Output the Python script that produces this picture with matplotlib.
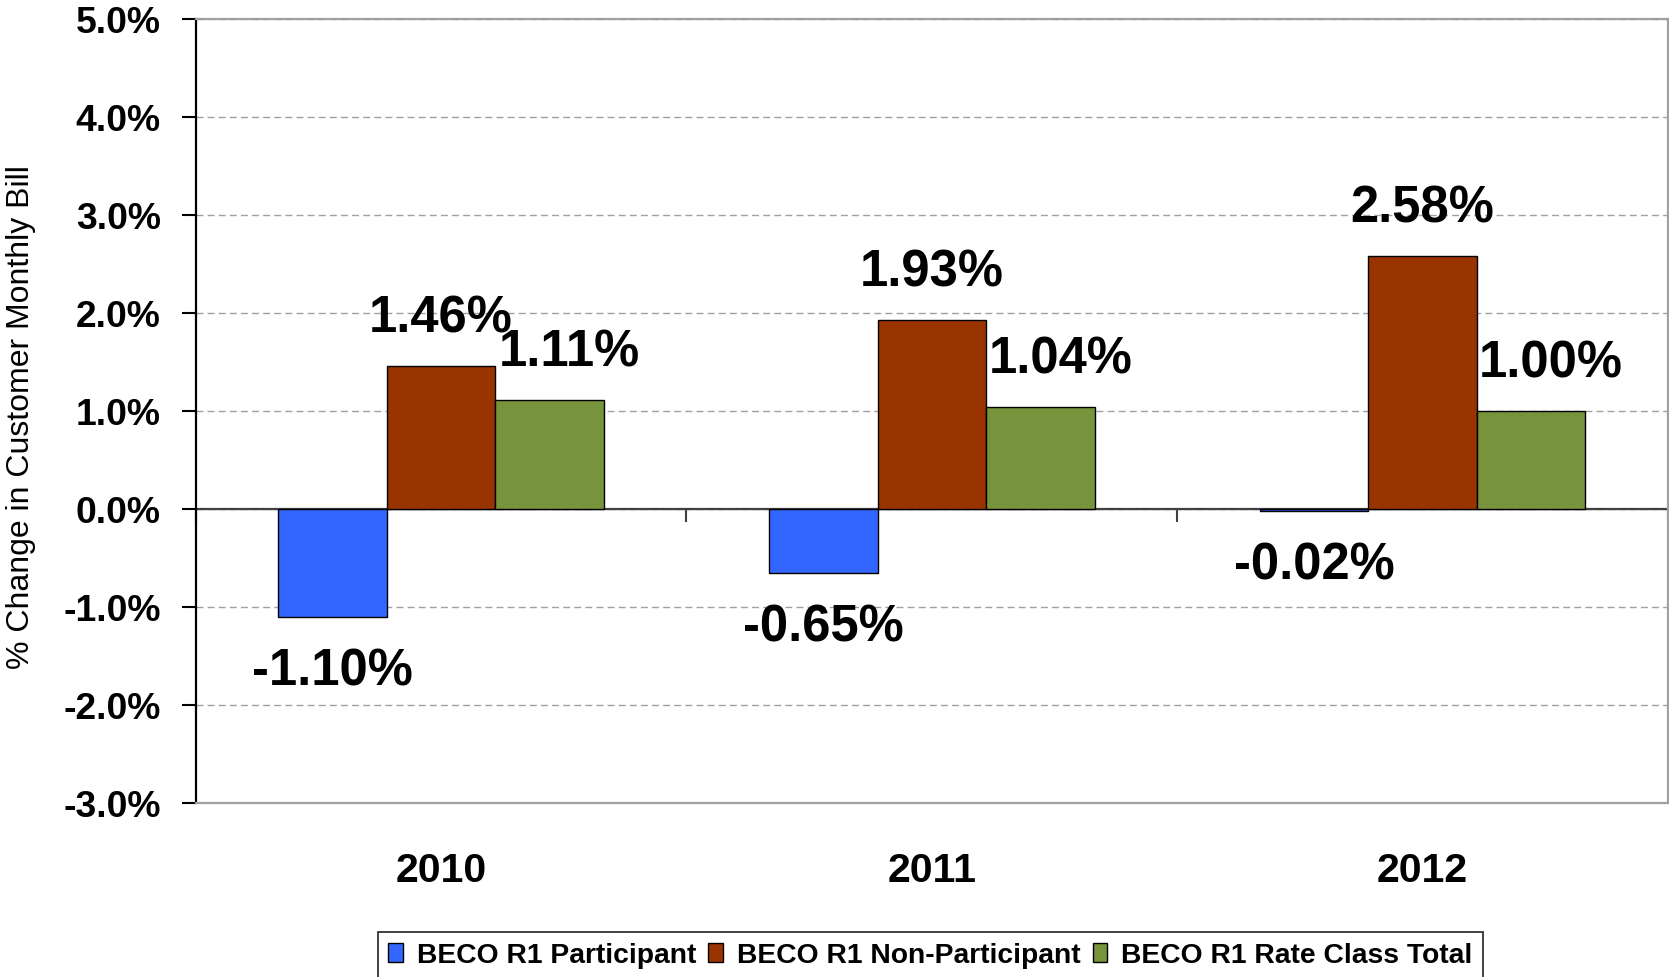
import matplotlib.pyplot as plt
import numpy as np

'''
    data
'''
years = ['2010', '2011', '2012']
participant = [-1.10, -0.65, -0.02]
non_participant = [1.46, 1.93, 2.58]
rate_class_total = [1.11, 1.04, 1.00]
series_names = ['BECO R1 Participant', 'BECO R1 Non-Participant', 'BECO R1 Rate Class Total']
y_ticks = [-3, -2, -1, 0, 1, 2, 3, 4, 5]

colors = ['#3366FF', '#993300', '#77933C']
label_dx = [0, 0, 14.5]   # points, green labels sit a bit to the right

plt.rcParams['font.family'] = ['Liberation Sans', 'DejaVu Sans']

fig = plt.figure(figsize=(16.69, 9.77), dpi=100)
ax = fig.add_axes([0.1172, 0.1778, 0.8822, 0.8025])

x = np.arange(len(years))
w = 0.221
bars = []
for i, vals in enumerate([participant, non_participant, rate_class_total]):
    b = ax.bar(x + (i - 1) * w, vals, w, color=colors[i], edgecolor='black',
               linewidth=1.0, label=series_names[i], zorder=3)
    bars.append(b)
    for xi, v in zip(x + (i - 1) * w, vals):
        dy = 24.5 if v > 0 else -49
        ax.annotate('%.2f%%' % v, (xi, v), xytext=(label_dx[i], dy),
                    textcoords='offset points', ha='center', va='baseline',
                    fontsize=36.5, fontweight='bold', zorder=5)

ax.set_xlim(-0.5, 2.5)
ax.set_ylim(-3, 5)
ax.set_yticks(y_ticks)
ax.set_yticklabels(['%.1f%%' % t for t in y_ticks])
ax.tick_params(axis='y', length=10, width=1.5, pad=15, labelsize=26.8, direction='out')
for lab in ax.get_yticklabels():
    lab.set_fontweight('bold')
ax.set_xticks(x)
ax.set_xticklabels(years, fontsize=29.5, fontweight='bold')
ax.tick_params(axis='x', length=0, pad=35)

ax.yaxis.grid(True, color='#A0A0A0', linestyle=(0, (5, 3)), linewidth=1.0)
ax.set_axisbelow(True)
ax.axhline(0, color='#404040', linewidth=1.6, zorder=2)

for s in ['top', 'right', 'bottom']:
    ax.spines[s].set_color('#A0A0A0')
    ax.spines[s].set_linewidth(1.6)
ax.spines['left'].set_color('black')
ax.spines['left'].set_linewidth(1.6)

# tick marks between categories on the zero line
sec = ax.secondary_xaxis(0.375)
sec.set_xticks(np.arange(-0.5, len(years), 1.0))
sec.set_xticklabels([])
sec.tick_params(length=9.5, width=1.5, color='#404040')

fig.text(21 / 1669, 1 - 417 / 977, '% Change in Customer Monthly Bill',
         rotation=90, ha='center', va='center', fontsize=23)

leg = fig.legend(handles=bars, labels=series_names, loc='upper center',
                 bbox_to_anchor=(930.5 / 1669, 1 - 932 / 977), ncol=3,
                 prop={'size': 20.3, 'weight': 'bold'}, frameon=True, fancybox=False,
                 borderaxespad=0, borderpad=0.38, handlelength=0.52, handleheight=0.64,
                 handletextpad=0.5, columnspacing=0.42)
leg.get_frame().set_edgecolor('black')
leg.get_frame().set_linewidth(1.3)

plt.savefig('out.png', dpi=100)
